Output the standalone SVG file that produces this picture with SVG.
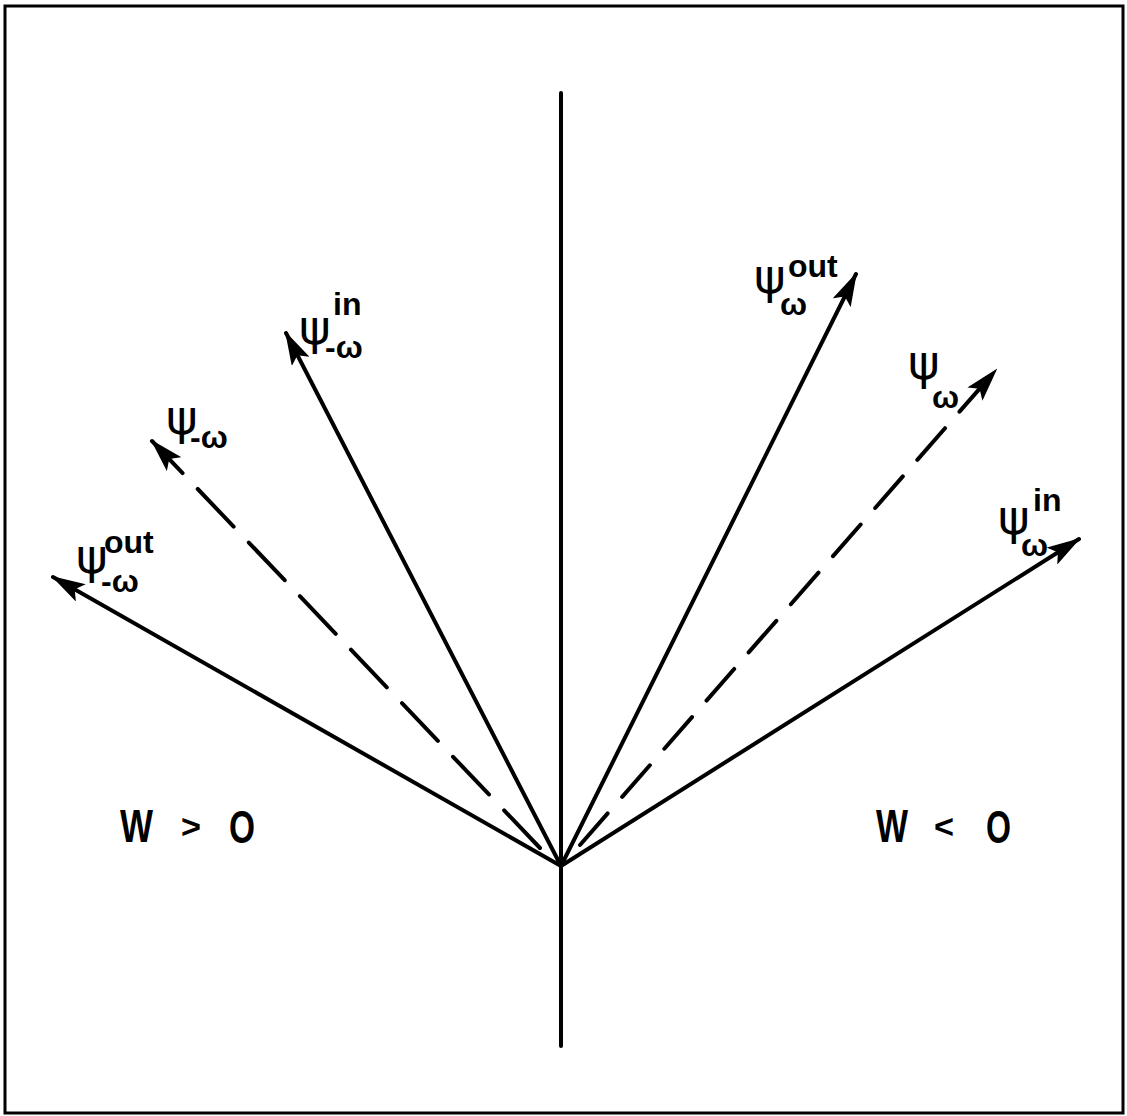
<svg xmlns="http://www.w3.org/2000/svg" width="1127" height="1116" viewBox="0 0 1127 1116">
<style>
.ln{stroke:#000;stroke-width:4;fill:none;stroke-linecap:round}
.ds{stroke-dasharray:52 22}
.ds2{stroke-dasharray:42 22}
.psi{font-family:"DejaVu Sans",sans-serif;font-size:48px;fill:#000}
.sub{font-family:"Liberation Sans",sans-serif;font-size:32px;font-weight:bold;fill:#000}
.sup{font-family:"Liberation Sans",sans-serif;font-size:32px;font-weight:bold;fill:#000}
.big{font-family:"Liberation Sans",sans-serif;font-size:46px;font-weight:bold;fill:#000}
.op{font-family:"Liberation Sans",sans-serif;font-size:34px;font-weight:bold;fill:#000}
</style>
<defs>
<marker id="ah" viewBox="0 0 34 20" refX="32" refY="10" markerWidth="34" markerHeight="20" markerUnits="userSpaceOnUse" orient="auto">
<path d="M0,0 L34,10 L0,20 L7,10 Z" fill="#000"/>
</marker>
</defs>
<rect x="5" y="6" width="1118" height="1107" fill="#fff" stroke="#000" stroke-width="3"/>
<g id="connectors">
<line class="ln" x1="561" y1="93" x2="561" y2="1046"/>
<line class="ln" x1="561" y1="866" x2="286" y2="333" marker-end="url(#ah)"/>
<line class="ln ds" x1="540" y1="848" x2="152" y2="441" marker-end="url(#ah)"/>
<line class="ln" x1="561" y1="866" x2="53" y2="577" marker-end="url(#ah)"/>
<line class="ln" x1="561" y1="866" x2="856" y2="274" marker-end="url(#ah)"/>
<line class="ln ds2" x1="580" y1="845" x2="996" y2="370" marker-end="url(#ah)"/>
<line class="ln" x1="561" y1="866" x2="1079" y2="539" marker-end="url(#ah)"/>
</g>
<g id="psi_mw_in">
<text class="psi" x="299" y="344">ψ</text>
<text class="sub" x="325" y="358">-ω</text>
<text class="sup" x="333" y="315">in</text>
</g>
<g id="psi_mw">
<text class="psi" x="166" y="434">ψ</text>
<text class="sub" x="190" y="448">-ω</text>
</g>
<g id="psi_mw_out">
<text class="psi" x="76" y="573">ψ</text>
<text class="sub" x="101" y="592">-ω</text>
<text class="sup" x="104" y="553">out</text>
</g>
<g id="psi_w_out">
<text class="psi" x="754" y="293">ψ</text>
<text class="sub" x="780" y="315">ω</text>
<text class="sup" x="788" y="277">out</text>
</g>
<g id="psi_w">
<text class="psi" x="908" y="379">ψ</text>
<text class="sub" x="932" y="408">ω</text>
</g>
<g id="psi_w_in">
<text class="psi" x="998" y="534">ψ</text>
<text class="sub" x="1021" y="556">ω</text>
<text class="sup" x="1033" y="511">in</text>
</g>
<g id="w_pos">
<text class="big" x="120" y="842" textLength="33" lengthAdjust="spacingAndGlyphs">W</text>
<text class="op" x="181" y="838" textLength="20" lengthAdjust="spacingAndGlyphs">&gt;</text>
<text class="big" x="229" y="843" textLength="26" lengthAdjust="spacingAndGlyphs">O</text>
</g>
<g id="w_neg">
<text class="big" x="876" y="842" textLength="32" lengthAdjust="spacingAndGlyphs">W</text>
<text class="op" x="934" y="838" textLength="20" lengthAdjust="spacingAndGlyphs">&lt;</text>
<text class="big" x="986" y="843" textLength="25" lengthAdjust="spacingAndGlyphs">O</text>
</g>
</svg>
